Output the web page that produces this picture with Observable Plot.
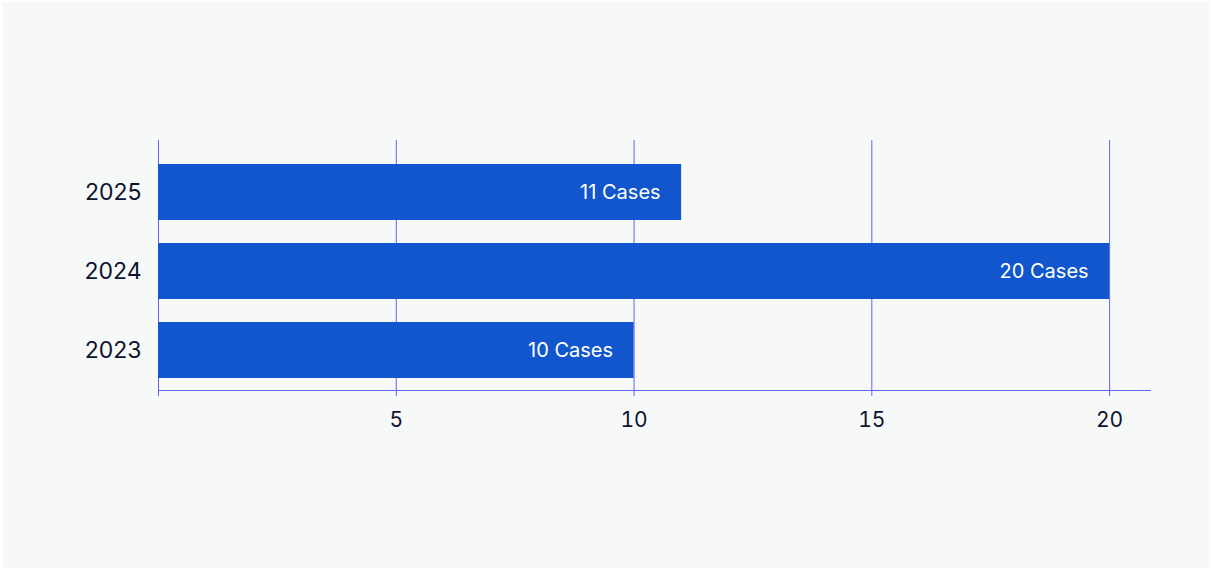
<!DOCTYPE html>
<html>
<head>
<meta charset="utf-8">
<script src="https://cdn.jsdelivr.net/npm/d3@7"></script>
<script src="https://cdn.jsdelivr.net/npm/@observablehq/plot@0.6"></script>
<style>
  html, body { margin: 0; padding: 0; background: #ffffff; }
  #chart { position: absolute; left: 3px; top: 2px; width: 1206px; height: 566px; background: #f7f9f9; }
  #chart svg { display: block; }
</style>
</head>
<body>
<div id="chart"></div>
<script>
// Cases per year
const years = ["2025", "2024", "2023"];
const cases = [11, 20, 10];
const caseLabels = ["11 Cases", "20 Cases", "10 Cases"];
const xTicks = [0, 5, 10, 15, 20];

const rows = years.map((year, i) => ({ year, cases: cases[i], label: caseLabels[i] }));

const gridColor = "#6262f2";

const chart = Plot.plot({
  width: 1206,
  height: 566,
  marginLeft: 155,
  marginRight: 59,
  marginTop: 138,
  marginBottom: 178,
  style: { background: "transparent", fontFamily: "Inter, 'Open Sans', sans-serif", color: "#0e1430" },
  x: { domain: [0, 20.86] },
  y: { domain: years, paddingInner: 0.291, paddingOuter: 0, insetTop: 24, insetBottom: 12, round: false },
  marks: [
    Plot.ruleX(xTicks, { stroke: gridColor, strokeWidth: 1 }),
    Plot.barX(rows, { x: "cases", y: "year", fill: "#1156cc" }),
    Plot.text(rows, {
      x: "cases", y: "year", text: "label",
      textAnchor: "end", dx: -21, fill: "#ffffff", fontSize: 20
    }),
    Plot.frame({ anchor: "bottom", stroke: gridColor }),
    Plot.axisX({
      ticks: xTicks, tickSize: 6, tickPadding: 16, fontSize: 21,
      stroke: gridColor, fill: "#0e1430", label: null,
      tickFormat: d => d === 0 ? "" : String(d)
    }),
    Plot.axisY({ tickSize: 0, tickPadding: 17, fontSize: 23, fill: "#0e1430", label: null })
  ]
});

document.getElementById("chart").appendChild(chart);
</script>
</body>
</html>
